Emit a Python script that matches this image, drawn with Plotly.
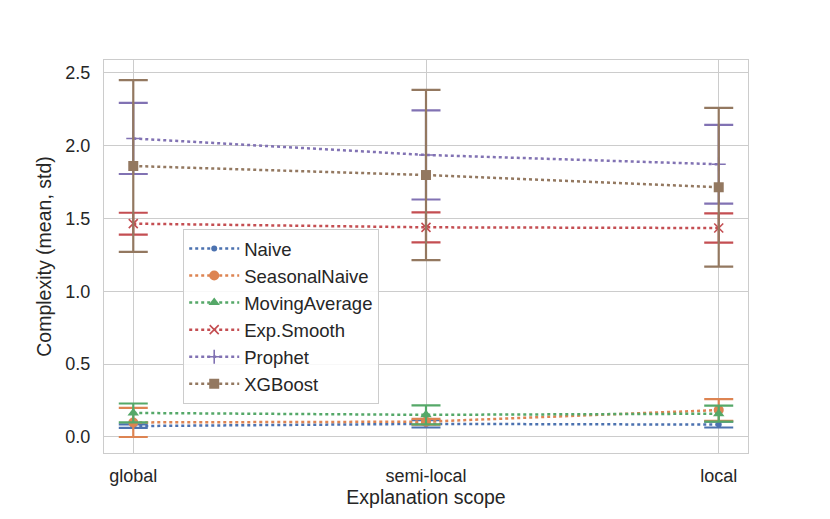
import plotly.graph_objects as go

scopes = ["global", "semi-local", "local"]
models = ["Naive", "SeasonalNaive", "MovingAverage", "Exp.Smooth", "Prophet", "XGBoost"]

naive_mean = [0.075, 0.09, 0.085]
naive_std = [0.012, 0.025, 0.02]
seasonal_mean = [0.10, 0.105, 0.185]
seasonal_std = [0.10, 0.02, 0.075]
moving_mean = [0.165, 0.152, 0.16]
moving_std = [0.065, 0.065, 0.055]
exp_mean = [1.465, 1.44, 1.435]
exp_std = [0.075, 0.103, 0.10]
prophet_mean = [2.05, 1.937, 1.873]
prophet_std = [0.244, 0.306, 0.27]
xgb_mean = [1.861, 1.799, 1.715]
xgb_std = [0.59, 0.585, 0.545]

means = [naive_mean, seasonal_mean, moving_mean, exp_mean, prophet_mean, xgb_mean]
stds = [naive_std, seasonal_std, moving_std, exp_std, prophet_std, xgb_std]

colors = ["#4C72B0", "#DD8452", "#55A868", "#C44E52", "#8172B3", "#937860"]
symbols = ["circle", "circle", "triangle-up", "x-thin", "cross-thin", "square"]
sizes = [6, 10, 10, 9, 10, 10]

fig = go.Figure()
xs = list(range(len(scopes)))
for i, name in enumerate(models):
    thin = symbols[i].endswith("thin")
    fig.add_trace(
        go.Scatter(
            x=xs,
            y=means[i],
            name=name,
            legendgroup=name,
            mode="lines+markers",
            line=dict(color=colors[i], width=2.5, dash="dot"),
            marker=dict(
                symbol=symbols[i],
                size=sizes[i],
                color=colors[i],
                line=dict(color=colors[i], width=1.6 if thin else 0),
            ),
            error_y=dict(
                type="data",
                array=stds[i],
                visible=True,
                color=colors[i],
                thickness=2.2,
                width=14.5,
            ),
        )
    )

grid = "#cccccc"
fig.update_layout(
    width=830,
    height=519,
    template="plotly_white",
    paper_bgcolor="white",
    plot_bgcolor="white",
    # the page body adds ~8px, so shift the plot area up/left
    margin=dict(l=96, r=90, t=52, b=74),
    font=dict(family="Liberation Sans, Arial, sans-serif", size=18, color="#262626"),
    legend=dict(
        x=0.123,
        y=0.57,
        xanchor="left",
        yanchor="top",
        bgcolor="rgba(255,255,255,0.85)",
        bordercolor=grid,
        borderwidth=1,
        font=dict(size=18.5),
        tracegroupgap=0,
        itemwidth=50,
    ),
    showlegend=True,
)
fig.update_xaxes(
    range=[-0.1, 2.1],
    tickmode="array",
    tickvals=xs,
    ticktext=scopes,
    showgrid=True,
    gridcolor=grid,
    gridwidth=1.2,
    showline=True,
    linecolor=grid,
    linewidth=1.2,
    mirror=True,
    zeroline=False,
    ticks="",
    tickfont=dict(size=18),
    ticklabelstandoff=6,
    title=dict(text="Explanation scope", font=dict(size=19.5), standoff=2),
)
fig.update_yaxes(
    range=[-0.11, 2.589],
    tickmode="array",
    tickvals=[0.0, 0.5, 1.0, 1.5, 2.0, 2.5],
    tickformat=".1f",
    showgrid=True,
    gridcolor=grid,
    gridwidth=1.2,
    showline=True,
    linecolor=grid,
    linewidth=1.2,
    mirror=True,
    zeroline=False,
    ticks="",
    tickfont=dict(size=18),
    ticklabelstandoff=9,
    title=dict(text="Complexity (mean, std)", font=dict(size=19.5), standoff=8),
)

fig.write_html("out.html")
